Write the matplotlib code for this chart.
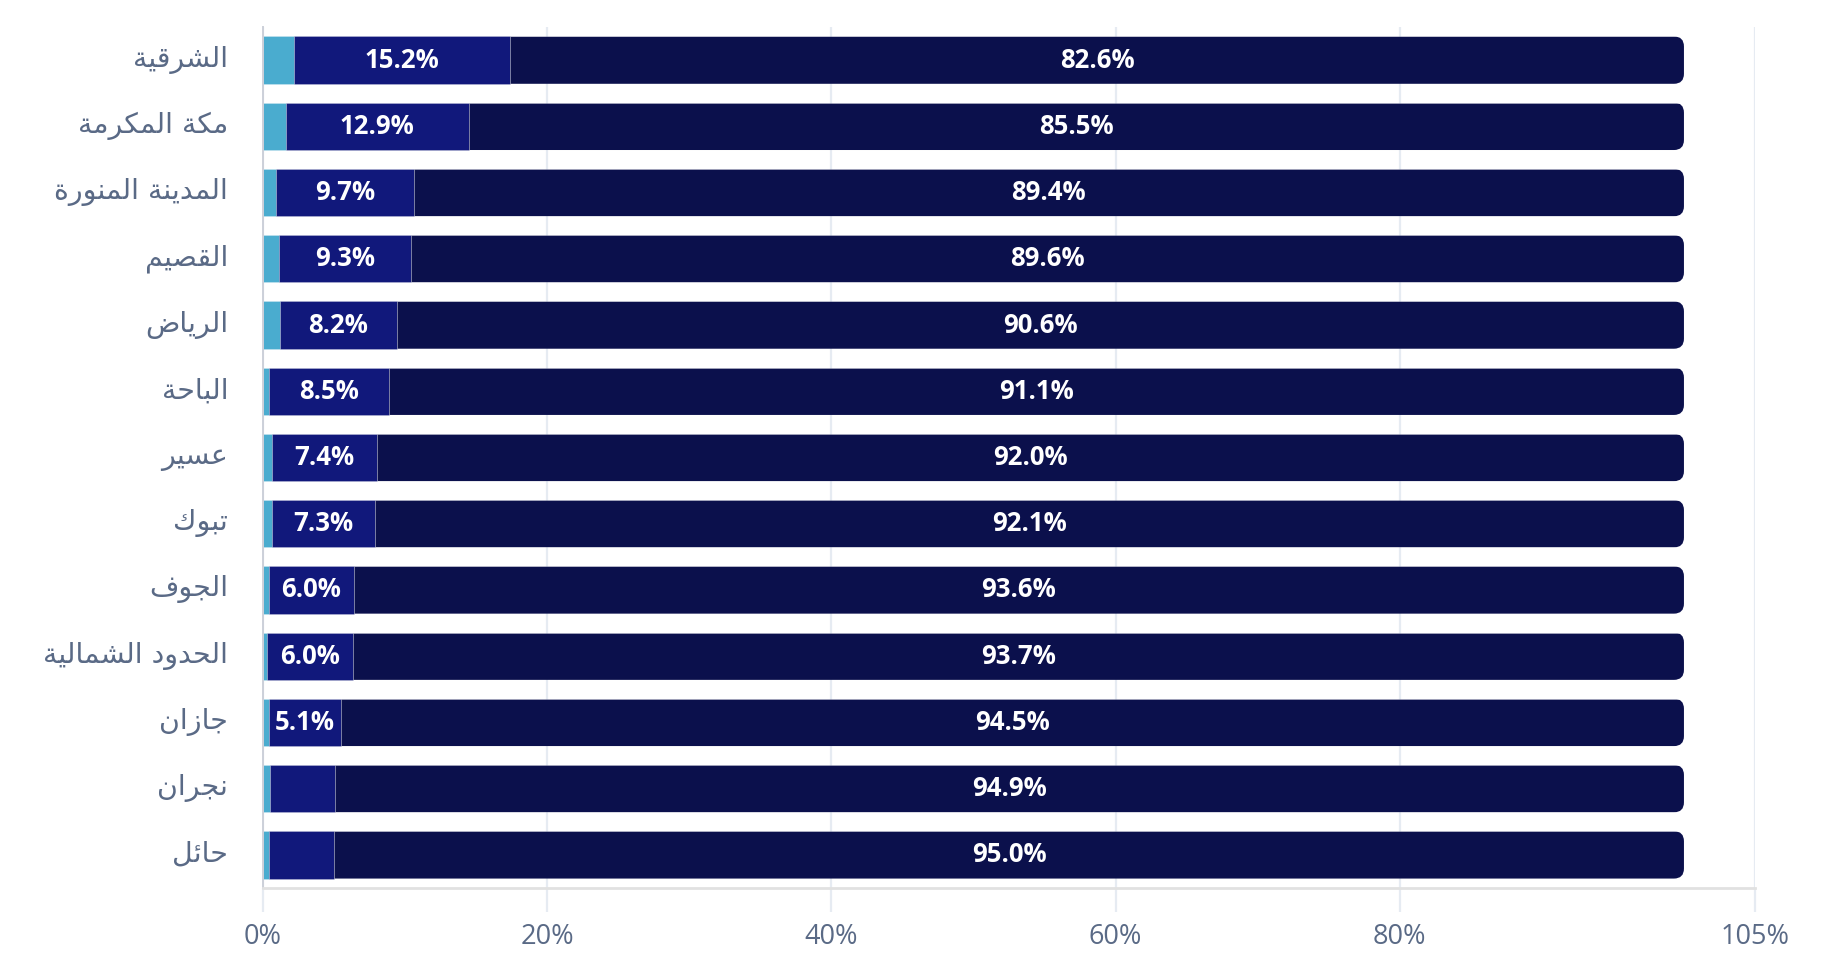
import matplotlib
matplotlib.use("Agg")
import matplotlib.pyplot as plt
from matplotlib.patches import FancyBboxPatch
from matplotlib.transforms import ScaledTranslation

# ---------------- data ----------------
regions = ["الشرقية", "مكة المكرمة", "المدينة المنورة", "القصيم", "الرياض",
           "الباحة", "عسير", "تبوك", "الجوف", "الحدود الشمالية", "جازان",
           "نجران", "حائل"]
share_low = [2.2, 1.6, 0.9, 1.1, 1.2, 0.4, 0.6, 0.6, 0.4, 0.3, 0.4, 0.5, 0.4]
share_mid = [15.2, 12.9, 9.7, 9.3, 8.2, 8.5, 7.4, 7.3, 6.0, 6.0, 5.1, 4.6, 4.6]
share_high = [82.6, 85.5, 89.4, 89.6, 90.6, 91.1, 92.0, 92.1, 93.6, 93.7, 94.5, 94.9, 95.0]
x_ticks = [0, 20, 40, 60, 80, 105]
x_tick_labels = ["0%", "20%", "40%", "60%", "80%", "105%"]

# ---------------- simple Arabic shaping ----------------
_counts = {}
_codes = list(range(0x0621, 0x063B)) + list(range(0x0641, 0x064B))
_nforms = [1, 2, 2, 2, 2, 4, 2, 4, 2, 4, 4, 4, 4, 4, 2, 2, 2, 2, 4, 4, 4, 4, 4, 4, 4, 4,
           4, 4, 4, 4, 4, 4, 4, 2, 2, 4]
_base = {}
_start = 0xFE80
for c, n in zip(_codes, _nforms):
    _base[chr(c)] = _start
    _counts[chr(c)] = n
    _start += n


def shape_arabic(s):
    out = []
    for i, ch in enumerate(s):
        if ch not in _base:
            out.append(ch)
            continue
        prev = s[i - 1] if i > 0 else None
        nxt = s[i + 1] if i + 1 < len(s) else None
        n = _counts[ch]
        join_prev = prev is not None and _counts.get(prev, 0) == 4 and n >= 2
        join_next = n == 4 and nxt is not None and _counts.get(nxt, 0) >= 2
        if join_prev and join_next:
            idx = 3
        elif join_prev:
            idx = 1
        elif join_next:
            idx = 2
        else:
            idx = 0
        out.append(chr(_base[ch] + idx))
    return "".join(out)[::-1]


# ---------------- figure ----------------
W, H = 1821, 963
fig = plt.figure(figsize=(W / 100, H / 100), dpi=100)
ax = fig.add_axes([263 / W, 1 - 888 / H, (1755 - 263) / W, (888 - 27) / H])

c_low = "#4aaccf"
c_mid = "#11187b"
c_high = "#0b104c"
label_color = "#5a6a86"
grid_color = "#e6ebf2"

n = len(regions)
ypos = list(range(n))
bar_h = 0.715

ax.set_xlim(0, 105)
ax.set_ylim(n - 0.5, -0.5)

ax.set_axisbelow(True)
ax.xaxis.grid(True, color=grid_color, linewidth=1.6)
ax.yaxis.grid(False)

edge = (1, 1, 1, 0.22)
ax.barh(ypos, share_low, height=bar_h, color=c_low, edgecolor=edge, linewidth=0.7, zorder=2)
ax.barh(ypos, share_mid, left=share_low, height=bar_h, color=c_mid, edgecolor=edge,
        linewidth=0.7, zorder=2)
left_high = [a + b for a, b in zip(share_low, share_mid)]
high_bars = ax.barh(ypos, share_high, left=left_high, height=bar_h, color=c_high,
                    edgecolor=edge, linewidth=0.7, zorder=2)

# rounded right end: clip each dark bar to a rounded rectangle spanning the full bar
fig.canvas.draw()
p0 = ax.transData.transform((0, 0))
p1 = ax.transData.transform((1, 1))
px_per_x = abs(p1[0] - p0[0])
px_per_y = abs(p1[1] - p0[1])
radius_px = 10
r_x = radius_px / px_per_x
aspect = px_per_x / px_per_y
for i, rect in enumerate(high_bars):
    total = share_low[i] + share_mid[i] + share_high[i]
    clip = FancyBboxPatch((-5, i - bar_h / 2), total + 5, bar_h,
                          boxstyle=f"round,pad=0,rounding_size={r_x}",
                          mutation_aspect=aspect, transform=ax.transData,
                          facecolor="none", edgecolor="none")
    rect.set_clip_path(clip)

# value labels
lab_font = dict(color="white", fontsize=18.5, fontweight="bold", family="Open Sans",
                ha="center", va="center", zorder=3)
for i in range(n):
    if share_mid[i] >= 5:
        ax.text(share_low[i] + share_mid[i] / 2, i, f"{share_mid[i]:.1f}%", **lab_font)
    ax.text(left_high[i] + share_high[i] / 2, i, f"{share_high[i]:.1f}%", **lab_font)

# axes styling
ax.set_xticks(x_ticks)
ax.set_xticklabels(x_tick_labels, family="Open Sans", fontsize=19.5, color=label_color)
ax.tick_params(axis="x", length=17, width=1.6, color=grid_color, pad=8)
ax.set_yticks(ypos)
ax.set_yticklabels([shape_arabic(r) for r in regions], family="DejaVu Sans",
                   fontsize=20.5, color=label_color)
ax.tick_params(axis="y", length=0, pad=25)
shift = ScaledTranslation(0, 4 / 100, fig.dpi_scale_trans)
for lab in ax.get_yticklabels():
    lab.set_transform(lab.get_transform() + shift)

for s in ["top", "right"]:
    ax.spines[s].set_visible(False)
ax.spines["left"].set_color("#ccd0d9")
ax.spines["left"].set_linewidth(1.4)
ax.spines["bottom"].set_color("#e1e1e1")
ax.spines["bottom"].set_linewidth(2.0)

fig.savefig("out.png", dpi=100, facecolor="white")
